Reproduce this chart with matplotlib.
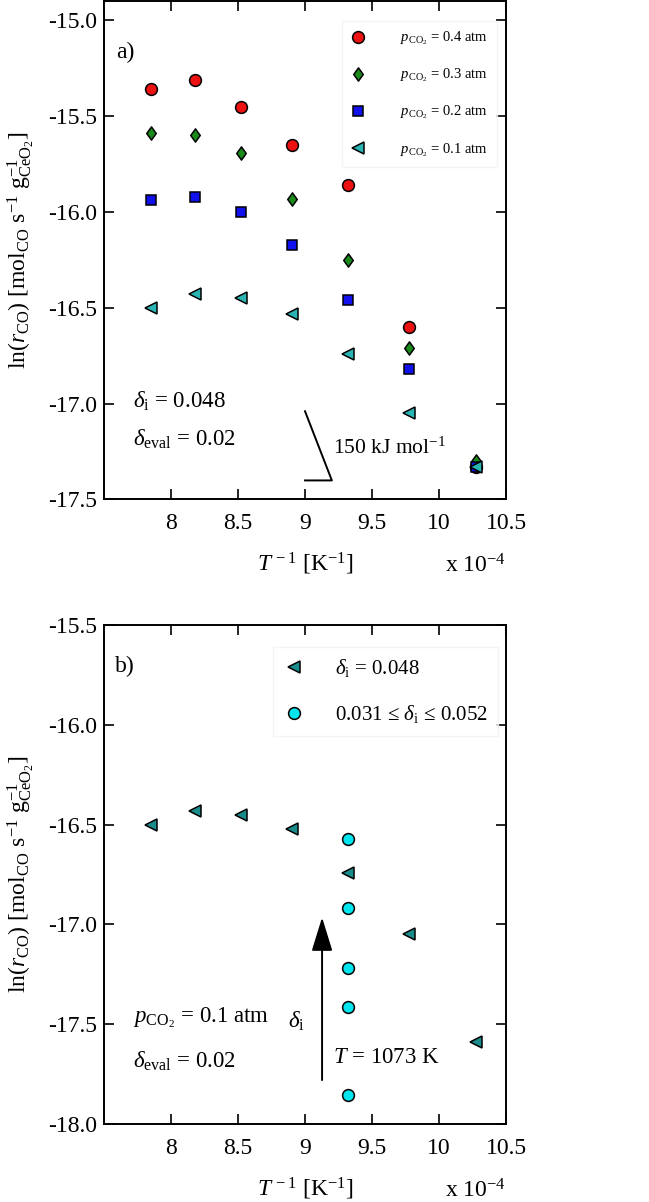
import numpy as np
import matplotlib
matplotlib.use('Agg')
import matplotlib.pyplot as plt
from matplotlib.path import Path

plt.rcParams['font.family'] = ['Liberation Serif', 'DejaVu Serif']
plt.rcParams['mathtext.fontset'] = 'custom'
plt.rcParams['mathtext.rm'] = 'Liberation Serif'
plt.rcParams['mathtext.it'] = 'Liberation Serif:italic'
plt.rcParams['mathtext.bf'] = 'Liberation Serif:bold'

# inverse temperature [1e-4 1/K]
inv_T = [7.855, 8.177, 8.525, 8.905, 9.320, 9.775, 10.277]

# panel a) ln(r_CO) for each pCO2
ln_r_04 = [-15.36, -15.31, -15.45, -15.65, -15.86, -16.60, -17.33]
ln_r_03 = [-15.59, -15.60, -15.69, -15.93, -16.25, -16.71, -17.30]
ln_r_02 = [-15.94, -15.92, -16.00, -16.17, -16.46, -16.82, -17.33]
ln_r_01 = [-16.50, -16.43, -16.45, -16.53, -16.74, -17.05, -17.33]

# panel b)
ln_r_b = [-16.50, -16.43, -16.45, -16.52, -16.74, -17.05, -17.59]
inv_T_var = [9.320, 9.320, 9.320, 9.320, 9.320]
ln_r_var = [-16.57, -16.92, -17.22, -17.415, -17.855]

labels_a = ['0.4', '0.3', '0.2', '0.1']

diamond = Path([(0, 1), (0.72, 0), (0, -1), (-0.72, 0), (0, 1)],
               [1, 2, 2, 2, 79])

FS = 16.5

fig = plt.figure(figsize=(6.49, 12.02), dpi=100)
ax1 = fig.add_axes([0.160, 0.5845, 0.620, 0.4145])
ax2 = fig.add_axes([0.160, 0.0649, 0.620, 0.4151])

ylab = r'ln($r_{\mathrm{CO}}$) [mol$_{\mathrm{CO}}$ s$^{-1}$ g$^{-1}_{\mathrm{CeO}_2}$]'

for ax in (ax1, ax2):
    ax.set_xlim(7.5, 10.5)
    ax.set_xticks([8, 8.5, 9, 9.5, 10, 10.5])
    ax.set_xticklabels(['8', '8.5', '9', '9.5', '10', '10.5'])
    ax.tick_params(direction='in', top=True, right=True, length=7, width=1.2,
                   labelsize=17)
    ax.tick_params(axis='x', pad=10)
    ax.tick_params(axis='y', pad=5)
    for s in ax.spines.values():
        s.set_linewidth(1.4)
    ax.set_ylabel(ylab, fontsize=17, labelpad=8)
    ax.set_xlabel(r'$T^{\,-1}$ [K$^{-1}$]', fontsize=17, labelpad=12)
    ax.text(1.0, -0.147, r'x 10$^{-4}$', transform=ax.transAxes, fontsize=17,
            ha='right', va='baseline')

# ---- panel a
ax1.set_ylim(-17.5, -14.9)
ax1.set_yticks([-17.5, -17.0, -16.5, -16.0, -15.5, -15.0])
ax1.set_yticklabels(['-17.5', '-17.0', '-16.5', '-16.0', '-15.5', '-15.0'])

kw = dict(linestyle='none', markeredgecolor='black', markeredgewidth=1.1)
ax1.plot(inv_T, ln_r_04, marker='o', markersize=8.5, color='#ee1111',
         label=r'$p_{\mathrm{CO}_2}$ = %s atm' % labels_a[0], **kw)
ax1.plot(inv_T, ln_r_03, marker=diamond, markersize=9.5, color='#1a8a1a',
         label=r'$p_{\mathrm{CO}_2}$ = %s atm' % labels_a[1], **kw)
ax1.plot(inv_T, ln_r_02, marker='s', markersize=7, color='#1111ee',
         label=r'$p_{\mathrm{CO}_2}$ = %s atm' % labels_a[2], **kw)
ax1.plot(inv_T, ln_r_01, marker='<', markersize=8.5, color='#2ab5b5',
         label=r'$p_{\mathrm{CO}_2}$ = %s atm' % labels_a[3], **kw)

ax1.legend(loc='upper right', bbox_to_anchor=(0.995, 0.975), fontsize=10.5,
           frameon=True, fancybox=False, edgecolor='#f2f2f2',
           handlelength=1.0, handletextpad=2.4, labelspacing=1.34,
           borderpad=0.6, numpoints=1)

ax1.text(7.657, -15.167, 'a)', fontsize=17, ha='center', va='center')
ax1.text(7.716, -17.02, r'$\delta_{\mathrm{i}}$ = 0.048', fontsize=FS, va='baseline')
ax1.text(7.716, -17.222, r'$\delta_{\mathrm{eval}}$ = 0.02', fontsize=FS, va='baseline')

# 150 kJ/mol slope triangle
dy = 150000 / 8.314 * 0.2e-4
ax1.plot([9.0, 9.2, 9.0], [-17.04, -17.04 - dy, -17.04 - dy],
         color='black', lw=1.4)
ax1.text(9.209, -17.26, r'150 kJ mol$^{\mathrm{-1}}$', fontsize=15.5, va='baseline')

# ---- panel b
ax2.set_ylim(-18.0, -15.5)
ax2.set_yticks([-18.0, -17.5, -17.0, -16.5, -16.0, -15.5])
ax2.set_yticklabels(['-18.0', '-17.5', '-17.0', '-16.5', '-16.0', '-15.5'])

ax2.plot(inv_T, ln_r_b, marker='<', markersize=8.5, color='#1a8c8c',
         label=r'$\delta_{\mathrm{i}}$ = 0.048', **kw)
ax2.plot(inv_T_var, ln_r_var, marker='o', markersize=8.5, color='#00e5ee',
         label=r'0.031 ≤ $\delta_{\mathrm{i}}$ ≤ 0.052', **kw)

ax2.legend(loc='upper right', bbox_to_anchor=(1.005, 0.977), fontsize=15,
           frameon=True, fancybox=False, edgecolor='#f2f2f2',
           handlelength=1.0, handletextpad=1.45, labelspacing=1.15,
           borderpad=0.5, numpoints=1)

ax2.text(7.657, -15.71, 'b)', fontsize=17, ha='center', va='center')
ax2.text(7.716, -17.489, r'$p_{\mathrm{CO}_2}$ = 0.1 atm', fontsize=FS, va='baseline')
ax2.text(7.716, -17.72, r'$\delta_{\mathrm{eval}}$ = 0.02', fontsize=FS, va='baseline')
ax2.annotate('', xy=(9.127, -16.965), xytext=(9.127, -17.78),
             arrowprops=dict(arrowstyle='-|>,head_length=2.1,head_width=0.65',
                             color='black', lw=1.4, shrinkA=0, shrinkB=0))
ax2.text(9.0, -17.52, r'$\delta_{\mathrm{i}}$', fontsize=FS, ha='right', va='baseline')
ax2.text(9.209, -17.694, r'$T$ = 1073 K', fontsize=FS, va='baseline')

fig.savefig('out.png', dpi=100)
